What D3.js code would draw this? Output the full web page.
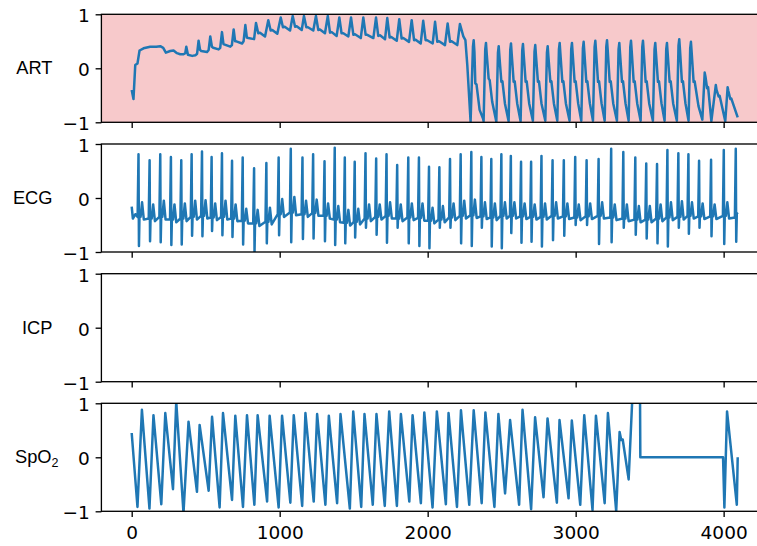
<!DOCTYPE html>
<html>
<head>
<meta charset="utf-8">
<script src="https://cdn.jsdelivr.net/npm/d3@7"></script>
<style>
body{margin:0;background:#fff}
</style>
</head>
<body>
<svg id="chart" width="757" height="546"></svg>
<script>
var channels = ["ART", "ECG", "ICP", "SpO2"];
var xTicks = [0, 1000, 2000, 3000, 4000];
var yTicks = [-1, 0, 1];

// ART: [sample, value]
var artPoints = [
[0,-0.40],[12,-0.57],[24,0.06],[39,0.09],[53,0.33],[80,0.37],[125,0.40],[166,0.40],[193,0.41],[213,0.38],[231,0.29],[260,0.32],[283,0.33],[306,0.28],[328,0.26],[350,0.26],
[362,0.28],[369,0.40],[380,0.25],[409,0.23],[430,0.24],
[442,0.27],[452,0.51],[462,0.34],[470,0.32],[509,0.30],
[520,0.34],[531,0.59],[542,0.40],[551,0.38],[587,0.35],
[598,0.38],[610,0.67],[620,0.45],[629,0.44],[666,0.40],
[677,0.43],[689,0.72],[699,0.50],[707,0.50],[746,0.46],
[756,0.50],[768,0.80],[778,0.57],[788,0.56],[827,0.54],
[840,0.84],[855,0.65],[867,0.66],[901,0.59],
[923,0.89],[939,0.70],[950,0.71],[984,0.64],
[1007,0.94],[1022,0.76],[1034,0.77],[1070,0.70],
[1088,0.97],[1104,0.77],[1115,0.78],[1149,0.71],
[1164,0.97],[1180,0.76],[1191,0.76],[1227,0.70],
[1245,0.97],[1261,0.71],[1272,0.72],[1306,0.65],
[1325,0.97],[1340,0.66],[1352,0.67],[1385,0.60],
[1403,0.94],[1418,0.65],[1430,0.65],[1464,0.59],
[1482,0.94],[1498,0.62],[1509,0.63],[1548,0.56],
[1565,0.94],[1581,0.62],[1592,0.62],[1633,0.56],
[1651,0.94],[1666,0.60],[1678,0.61],[1712,0.54],
[1727,0.93],[1743,0.57],[1754,0.58],[1791,0.51],
[1808,0.91],[1824,0.55],[1835,0.56],[1874,0.49],
[1892,0.89],[1908,0.52],[1919,0.53],[1953,0.46],
[1970,0.88],[1986,0.52],[1997,0.52],[2034,0.46],
[2050,0.86],[2065,0.49],[2077,0.50],[2117,0.43],
[2135,0.83],[2151,0.49],[2162,0.50],[2200,0.43],
[2218,0.82],[2241,0.59],[2255,0.52],[2268,0.05],[2290,-0.99],
[2306,0.40],[2311,0.52],[2316,0.30],[2322,-0.28],[2330,-0.30],[2351,-0.77],[2374,-0.93],
[2378,-0.98],[2389,0.35],[2394,0.47],[2399,0.27],[2412,-0.19],[2419,-0.22],[2436,-0.62],[2464,-0.99],
[2475,0.29],[2480,0.41],[2485,0.21],[2498,-0.25],[2505,-0.24],[2522,-0.65],[2547,-0.98],
[2558,0.34],[2563,0.46],[2568,0.26],[2581,-0.25],[2588,-0.24],[2605,-0.65],[2628,-0.98],
[2639,0.33],[2644,0.45],[2649,0.25],[2662,-0.25],[2669,-0.24],[2686,-0.65],[2711,-0.97],
[2722,0.31],[2727,0.43],[2732,0.23],[2745,-0.25],[2752,-0.24],[2769,-0.65],[2795,-0.97],
[2806,0.29],[2811,0.41],[2816,0.21],[2829,-0.25],[2836,-0.24],[2853,-0.65],[2876,-0.97],
[2887,0.35],[2892,0.47],[2897,0.27],[2910,-0.25],[2917,-0.24],[2934,-0.65],[2959,-0.97],
[2970,0.35],[2975,0.47],[2980,0.27],[2993,-0.25],[3000,-0.24],[3017,-0.65],[3038,-0.97],
[3049,0.37],[3054,0.49],[3059,0.29],[3072,-0.25],[3079,-0.24],[3096,-0.65],[3117,-0.97],
[3128,0.39],[3133,0.51],[3138,0.31],[3151,-0.25],[3158,-0.24],[3175,-0.65],[3196,-0.97],
[3207,0.40],[3212,0.52],[3217,0.32],[3230,-0.25],[3237,-0.24],[3254,-0.65],[3279,-0.97],
[3290,0.35],[3295,0.47],[3300,0.27],[3313,-0.25],[3320,-0.24],[3337,-0.65],[3358,-0.97],
[3369,0.39],[3374,0.51],[3379,0.31],[3392,-0.25],[3399,-0.24],[3416,-0.65],[3439,-0.97],
[3450,0.39],[3455,0.51],[3460,0.31],[3473,-0.25],[3480,-0.24],[3497,-0.65],[3522,-0.97],
[3533,0.35],[3538,0.47],[3543,0.27],[3556,-0.25],[3563,-0.24],[3580,-0.65],[3601,-0.97],
[3612,0.35],[3617,0.47],[3622,0.27],[3635,-0.25],[3642,-0.24],[3659,-0.65],[3684,-0.97],
[3695,0.42],[3700,0.54],[3705,0.34],[3718,-0.25],[3725,-0.24],[3742,-0.65],[3763,-0.97],
[3774,0.37],[3779,0.49],[3784,0.29],[3797,-0.25],[3804,-0.24],[3830,-0.70],[3856,-0.95],
[3872,-0.08],[3877,-0.15],[3888,-0.37],[3895,-0.35],[3917,-0.98],
[3947,-0.31],[3952,-0.40],[3966,-0.52],[3973,-0.51],[4011,-0.98],
[4027,-0.35],[4032,-0.42],[4045,-0.57],[4052,-0.56],[4095,-0.91]
];

// ECG beats: R position, R peak, S trough, baseline, T wave
var ecgBeatX = [46,121,193,265,335,405,475,540,610,678,
750,827,910,993,1075,1154,1226,1303,1372,1440,
1507,1580,1652,1722,1794,1869,1941,2009,2079,2151,
2223,2295,2363,2430,2498,2562,2631,2699,2769,2844,
2920,2997,3074,3155,3240,3322,3403,3477,3550,3620,
3694,3762,3834,3915,4001,4082];
var ecgPeak = [0.81,0.70,0.81,0.76,0.70,0.81,0.86,0.76,0.83,0.69,
0.75,0.55,0.65,0.75,0.91,0.75,0.81,0.68,0.93,0.75,
0.67,0.83,0.73,0.81,0.61,0.75,0.75,0.58,0.57,0.72,
0.81,0.85,0.76,0.72,0.81,0.78,0.67,0.67,0.78,0.70,
0.70,0.76,0.70,0.72,0.91,0.85,0.75,0.64,0.63,0.89,
0.83,0.81,0.69,0.71,0.89,0.91];
var ecgTrough = [-0.89,-0.80,-0.82,-0.87,-0.86,-0.70,-0.71,-0.61,-0.69,-0.72,
-0.86,-1.00,-0.84,-0.69,-0.82,-0.76,-0.75,-0.80,-0.87,-0.84,
-0.73,-0.55,-0.68,-0.83,-0.55,-0.84,-0.89,-0.93,-0.55,-0.55,
-0.84,-0.89,-0.55,-0.90,-0.93,-0.65,-0.83,-0.81,-0.90,-0.78,
-0.70,-0.50,-0.50,-0.85,-0.82,-0.55,-0.68,-0.75,-0.84,-0.90,
-0.55,-0.66,-0.55,-0.71,-0.85,-0.81];
var ecgBase = [-0.35,-0.38,-0.35,-0.40,-0.38,-0.35,-0.33,-0.36,-0.35,-0.38,
-0.42,-0.47,-0.44,-0.30,-0.27,-0.30,-0.28,-0.33,-0.40,-0.46,
-0.44,-0.38,-0.35,-0.33,-0.38,-0.36,-0.37,-0.42,-0.40,-0.36,
-0.33,-0.32,-0.34,-0.36,-0.33,-0.33,-0.34,-0.35,-0.35,-0.33,
-0.34,-0.36,-0.34,-0.33,-0.36,-0.38,-0.40,-0.40,-0.38,-0.36,
-0.35,-0.33,-0.34,-0.34,-0.33,-0.36];
var ecgT = [-0.08,-0.12,-0.05,-0.12,-0.10,-0.05,-0.04,-0.10,-0.05,-0.12,
-0.20,-0.22,-0.18,-0.02,0.02,-0.05,-0.03,-0.10,-0.15,-0.22,
-0.20,-0.12,-0.12,-0.08,-0.12,-0.10,-0.10,-0.18,-0.15,-0.10,
-0.05,-0.03,-0.08,-0.10,-0.08,-0.08,-0.10,-0.12,-0.10,-0.08,
-0.10,-0.12,-0.10,-0.08,-0.12,-0.12,-0.15,-0.15,-0.12,-0.08,
-0.06,-0.08,-0.10,-0.12,-0.08,-0.10];
var ecgStart = [[0,-0.16],[8,-0.38],[25,-0.30]];
var ecgEnd = [4095,-0.30];

// ICP has no samples
var icpPoints = [];

// SpO2: [sample, value]
var spo2Points = [
[0,0.45],[39,-0.92],[69,0.88],[120,-0.95],[147,0.78],[200,-0.87],[227,0.82],[279,-0.59],[301,1.03],[350,-1.03],
[384,0.66],[441,-0.64],[459,0.60],[520,-0.62],[543,0.75],[594,-0.93],[617,0.82],[678,-0.79],[700,0.77],[752,-0.92],
[779,0.78],[829,-0.88],[851,0.78],[915,-0.82],[932,0.77],[993,-0.93],[1016,0.77],[1072,-0.84],[1095,0.78],[1152,-0.90],
[1174,0.82],[1230,-0.82],[1253,0.80],[1309,-0.88],[1332,0.77],[1388,-0.85],[1411,0.80],[1474,-0.95],[1497,0.85],[1551,-0.92],
[1573,0.80],[1629,-0.88],[1654,0.80],[1710,-0.90],[1740,0.85],[1792,-0.90],[1819,0.80],[1876,-0.82],[1898,0.78],[1954,-0.85],
[1977,0.83],[2033,-0.93],[2062,0.85],[2123,-0.87],[2141,0.82],[2198,-0.92],[2225,0.87],[2281,-0.88],[2311,0.87],[2365,-0.85],
[2390,0.83],[2451,-0.92],[2478,0.80],[2523,-0.67],[2557,0.69],[2618,-0.88],[2641,0.88],[2699,-0.96],[2726,0.74],[2783,-0.74],
[2810,0.72],[2873,-0.84],[2891,0.69],[2952,-0.76],[2974,0.68],[3031,-0.88],[3058,0.78],[3114,-0.98],[3137,0.77],[3196,-0.85],
[3218,0.82],[3274,-1.00],[3297,0.47],[3308,0.32],[3318,0.33],[3358,-0.41],[3383,1.10],[3435,1.10],[3437,0.00],
[3996,0.00],[4005,-0.93],[4023,0.85],[4089,-0.88],[4095,0.00]
];

var ecgPoints = ecgStart.slice();
ecgBeatX.forEach(function(r, i){
    var b = ecgBase[i];
    ecgPoints.push([r-6, b], [r, ecgPeak[i]], [r+3, ecgTrough[i]], [r+7, b+0.08],
                   [r+14, b], [r+24, ecgT[i]], [r+36, b-0.05]);
});
ecgPoints = ecgPoints.filter(function(p){ return p[0] < ecgEnd[0]; });
ecgPoints.push(ecgEnd);

var series = [artPoints, ecgPoints, icpPoints, spo2Points];

var svg = d3.select("#chart");
var left = 101.4, right = 768, panelH = 108;
var panelTop = [14.3, 144, 273.7, 403.3];
var tickFont = "'DejaVu Sans', sans-serif";
var labelFont = "'Liberation Sans', Arial, sans-serif";

var x = d3.scaleLinear().domain([-204.75, 4299.75]).range([left, right]);

channels.forEach(function(name, i){
    var top = panelTop[i];
    var y = d3.scaleLinear().domain([-1, 1]).range([top + panelH, top]);
    var g = svg.append("g");

    if(i == 0){
        g.append("rect").attr("x", left).attr("y", top)
            .attr("width", right - left).attr("height", panelH)
            .attr("fill", "#f7c9cb");
    }

    var clipID = "clip_" + i;
    svg.append("clipPath").attr("id", clipID).append("rect")
        .attr("x", left).attr("y", top).attr("width", right - left).attr("height", panelH);

    if(series[i].length){
        var line = d3.line().x(function(d){ return x(d[0]); }).y(function(d){ return y(d[1]); });
        g.append("path").datum(series[i])
            .attr("d", line)
            .attr("clip-path", "url(#" + clipID + ")")
            .attr("fill", "none")
            .attr("stroke", "#1f77b4")
            .attr("stroke-width", 2.5)
            .attr("stroke-linejoin", "round");
    }

    var xAxis = d3.axisBottom(x).tickValues(xTicks).tickSize(5.8).tickPadding(5.8)
        .tickFormat(d3.format("d"));
    if(i < 3) xAxis.tickFormat("");
    var gx = g.append("g").attr("transform", "translate(0," + (top + panelH) + ")").call(xAxis);
    gx.select(".domain").remove();
    gx.selectAll("line").attr("stroke", "#000").attr("stroke-width", 1.33);
    gx.selectAll("text").attr("y", 28).attr("dy", null)
        .attr("fill", "#000").style("font-family", tickFont).style("font-size", "18.5px");

    var yAxis = d3.axisLeft(y).tickValues(yTicks).tickSize(5.8).tickPadding(5.8)
        .tickFormat(function(d){ return d < 0 ? "\u2212" + Math.abs(d) : d; });
    var gy = g.append("g").attr("transform", "translate(" + left + ",0)").call(yAxis);
    gy.select(".domain").remove();
    gy.selectAll("line").attr("stroke", "#000").attr("stroke-width", 1.33);
    gy.selectAll("text").attr("dy", "0.41em")
        .attr("fill", "#000").style("font-family", tickFont).style("font-size", "18.5px");

    g.append("rect").attr("x", left).attr("y", top)
        .attr("width", right - left).attr("height", panelH)
        .attr("fill", "none").attr("stroke", "#000").attr("stroke-width", 1.33);

    var label = g.append("text")
        .attr("y", y(0) + 6)
        .style("font-family", labelFont).style("font-size", "18.3px").attr("fill", "#000");
    if(name == "SpO2"){
        label.attr("x", 15);
        label.append("tspan").text("SpO");
        label.append("tspan").attr("dy", 3.6).style("font-size", "12.5px").text("2");
    } else {
        label.attr("x", 52.5).attr("text-anchor", "end").text(name);
    }
});
</script>
</body>
</html>
